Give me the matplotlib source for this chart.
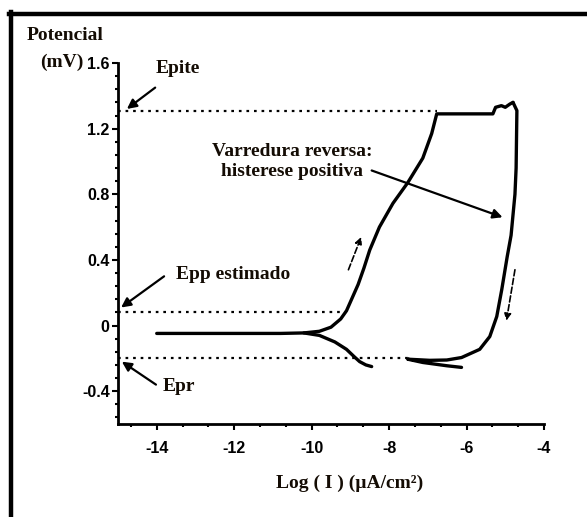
import matplotlib
matplotlib.use("Agg")
import matplotlib.pyplot as plt
from matplotlib.ticker import MultipleLocator
from matplotlib.lines import Line2D

# ---- data ----
fwd_x = [-14.0, -12.0, -10.8, -10.2, -9.8, -9.5, -9.25, -9.1, -8.95, -8.8, -8.65,
         -8.5, -8.25, -7.9, -7.52, -7.13, -6.9, -6.77, -6.0, -5.32, -5.25, -5.1,
         -5.0, -4.88, -4.8]
fwd_y = [-0.048, -0.048, -0.048, -0.045, -0.035, -0.01, 0.04, 0.09, 0.17, 0.25, 0.35,
         0.46, 0.6, 0.745, 0.87, 1.02, 1.17, 1.29, 1.29, 1.29, 1.33, 1.34,
         1.33, 1.35, 1.36]
cat_x = [-10.2, -9.8, -9.4, -9.1, -8.9, -8.76, -8.6, -8.45]
cat_y = [-0.045, -0.06, -0.1, -0.145, -0.19, -0.22, -0.24, -0.25]
rev_x = [-4.8, -4.7, -4.72, -4.75, -4.85, -4.95, -5.09, -5.22, -5.4, -5.66, -6.13,
         -6.51, -6.95, -7.52, -7.13, -6.51, -6.13]
rev_y = [1.36, 1.31, 0.96, 0.8, 0.55, 0.42, 0.22, 0.055, -0.067, -0.145, -0.195,
         -0.21, -0.212, -0.205, -0.225, -0.245, -0.255]

E_pite, E_pite_end = 1.31, -6.77
E_pp, E_pp_end = 0.085, -9.15
E_pr, E_pr_end = -0.195, -7.52

x_ticks = [-14, -12, -10, -8, -6, -4]
y_ticks = [-0.4, 0, 0.4, 0.8, 1.2, 1.6]
x_ticklabels = ["-14", "-12", "-10", "-8", "-6", "-4"]
y_ticklabels = ["-0.4", "0", "0.4", "0.8", "1.2", "1.6"]

SERIF = "Liberation Serif"
TICKF = ["Liberation Sans Narrow", "Liberation Sans", "DejaVu Sans"]
TCOL = "#140c04"
FS = 14

fig = plt.figure(figsize=(5.87, 5.17), dpi=100)
ax = fig.add_axes([118 / 587, 1 - 424 / 517, (544 - 118) / 587, (424 - 63) / 517])

ax.set_xlim(-15, -4)
ax.set_ylim(-0.6, 1.6)
for s in ["top", "right"]:
    ax.spines[s].set_visible(False)
for s in ["left", "bottom"]:
    ax.spines[s].set_linewidth(2.0)

ax.set_xticks(x_ticks)
ax.set_xticklabels(x_ticklabels)
ax.set_yticks(y_ticks)
ax.set_yticklabels(y_ticklabels)
ax.xaxis.set_minor_locator(MultipleLocator(2 / 3))
ax.yaxis.set_minor_locator(MultipleLocator(0.08))
ax.tick_params(which="major", direction="out", length=4, width=1.5)
ax.tick_params(which="minor", direction="out", length=2.5, width=1.5)
ax.tick_params(axis="x", pad=8)
ax.tick_params(axis="y", pad=2)
for lab in ax.get_xticklabels() + ax.get_yticklabels():
    lab.set_fontfamily(TICKF)
    lab.set_fontweight("bold")
    lab.set_fontsize(11.5)

# curves
lw = 2.4
ax.plot(fwd_x, fwd_y, color="black", lw=lw, solid_capstyle="round", solid_joinstyle="round")
ax.plot(cat_x, cat_y, color="black", lw=lw, solid_capstyle="round")
ax.plot(rev_x, rev_y, color="black", lw=lw, solid_capstyle="round", solid_joinstyle="round")

# dotted reference lines
for yv, xe in [(E_pite, E_pite_end), (E_pp, E_pp_end), (E_pr, E_pr_end)]:
    ax.plot([-15, xe], [yv, yv], color="black", lw=1.6, ls=(0, (1.2, 2.2)))

# dashed direction arrows
ax.annotate("", xy=(-8.72, 0.54), xytext=(-9.05, 0.34),
            arrowprops=dict(arrowstyle="-|>", color="black", lw=1.2, ls="--",
                            mutation_scale=10, shrinkA=0, shrinkB=0))
ax.annotate("", xy=(-4.97, 0.03), xytext=(-4.75, 0.34),
            arrowprops=dict(arrowstyle="-|>", color="black", lw=1.2, ls="--",
                            mutation_scale=10, shrinkA=0, shrinkB=0))

# annotation arrows and labels
aprops = dict(arrowstyle="-|>", color="black", lw=1.6, mutation_scale=14,
              shrinkA=0, shrinkB=0)
ax.annotate("", xy=(-14.77, 1.32), xytext=(-14.04, 1.45), arrowprops=aprops,
            annotation_clip=False)
ax.annotate("", xy=(-14.92, 0.11), xytext=(-13.81, 0.30), arrowprops=aprops,
            annotation_clip=False)
ax.annotate("", xy=(-14.9, -0.22), xytext=(-14.02, -0.36), arrowprops=aprops,
            annotation_clip=False)
ax.annotate("", xy=(-5.07, 0.66), xytext=(-8.45, 0.945), arrowprops=aprops,
            annotation_clip=False)

tkw = dict(fontfamily=SERIF, fontweight="bold", fontsize=FS, color=TCOL)
ax.text(-14.02, 1.564, "Epite", ha="left", va="center", clip_on=False, **tkw)
ax.text(-13.5, 0.31, "Epp estimado", ha="left", va="center", clip_on=False, **tkw)
ax.text(-13.86, -0.37, "Epr", ha="left", va="center", clip_on=False, **tkw)
ax.text(-10.5, 1.0, "Varredura reversa:\nhisterese positiva", ha="center",
        va="center", multialignment="center", linespacing=1.2, clip_on=False, **tkw)

fig.text(27 / 587, 1 - 35 / 517, "Potencial", ha="left", va="center", **tkw)
fig.text(40 / 587, 1 - 62 / 517, "(mV)", ha="left", va="center", **tkw)
fig.text(350 / 587, 1 - 483 / 517, "Log ( I ) (µA/cm²)", ha="center", va="center", **tkw)

# outer frame (top and left only, as in the cropped reference)
fig.add_artist(Line2D([10.5 / 587, 10.5 / 587], [0, 1 - 12 / 517],
                      transform=fig.transFigure, color="black", lw=3.2))
fig.add_artist(Line2D([9 / 587, 1], [1 - 13.5 / 517, 1 - 13.5 / 517],
                      transform=fig.transFigure, color="black", lw=3.2))

fig.savefig("out.png", dpi=100)
